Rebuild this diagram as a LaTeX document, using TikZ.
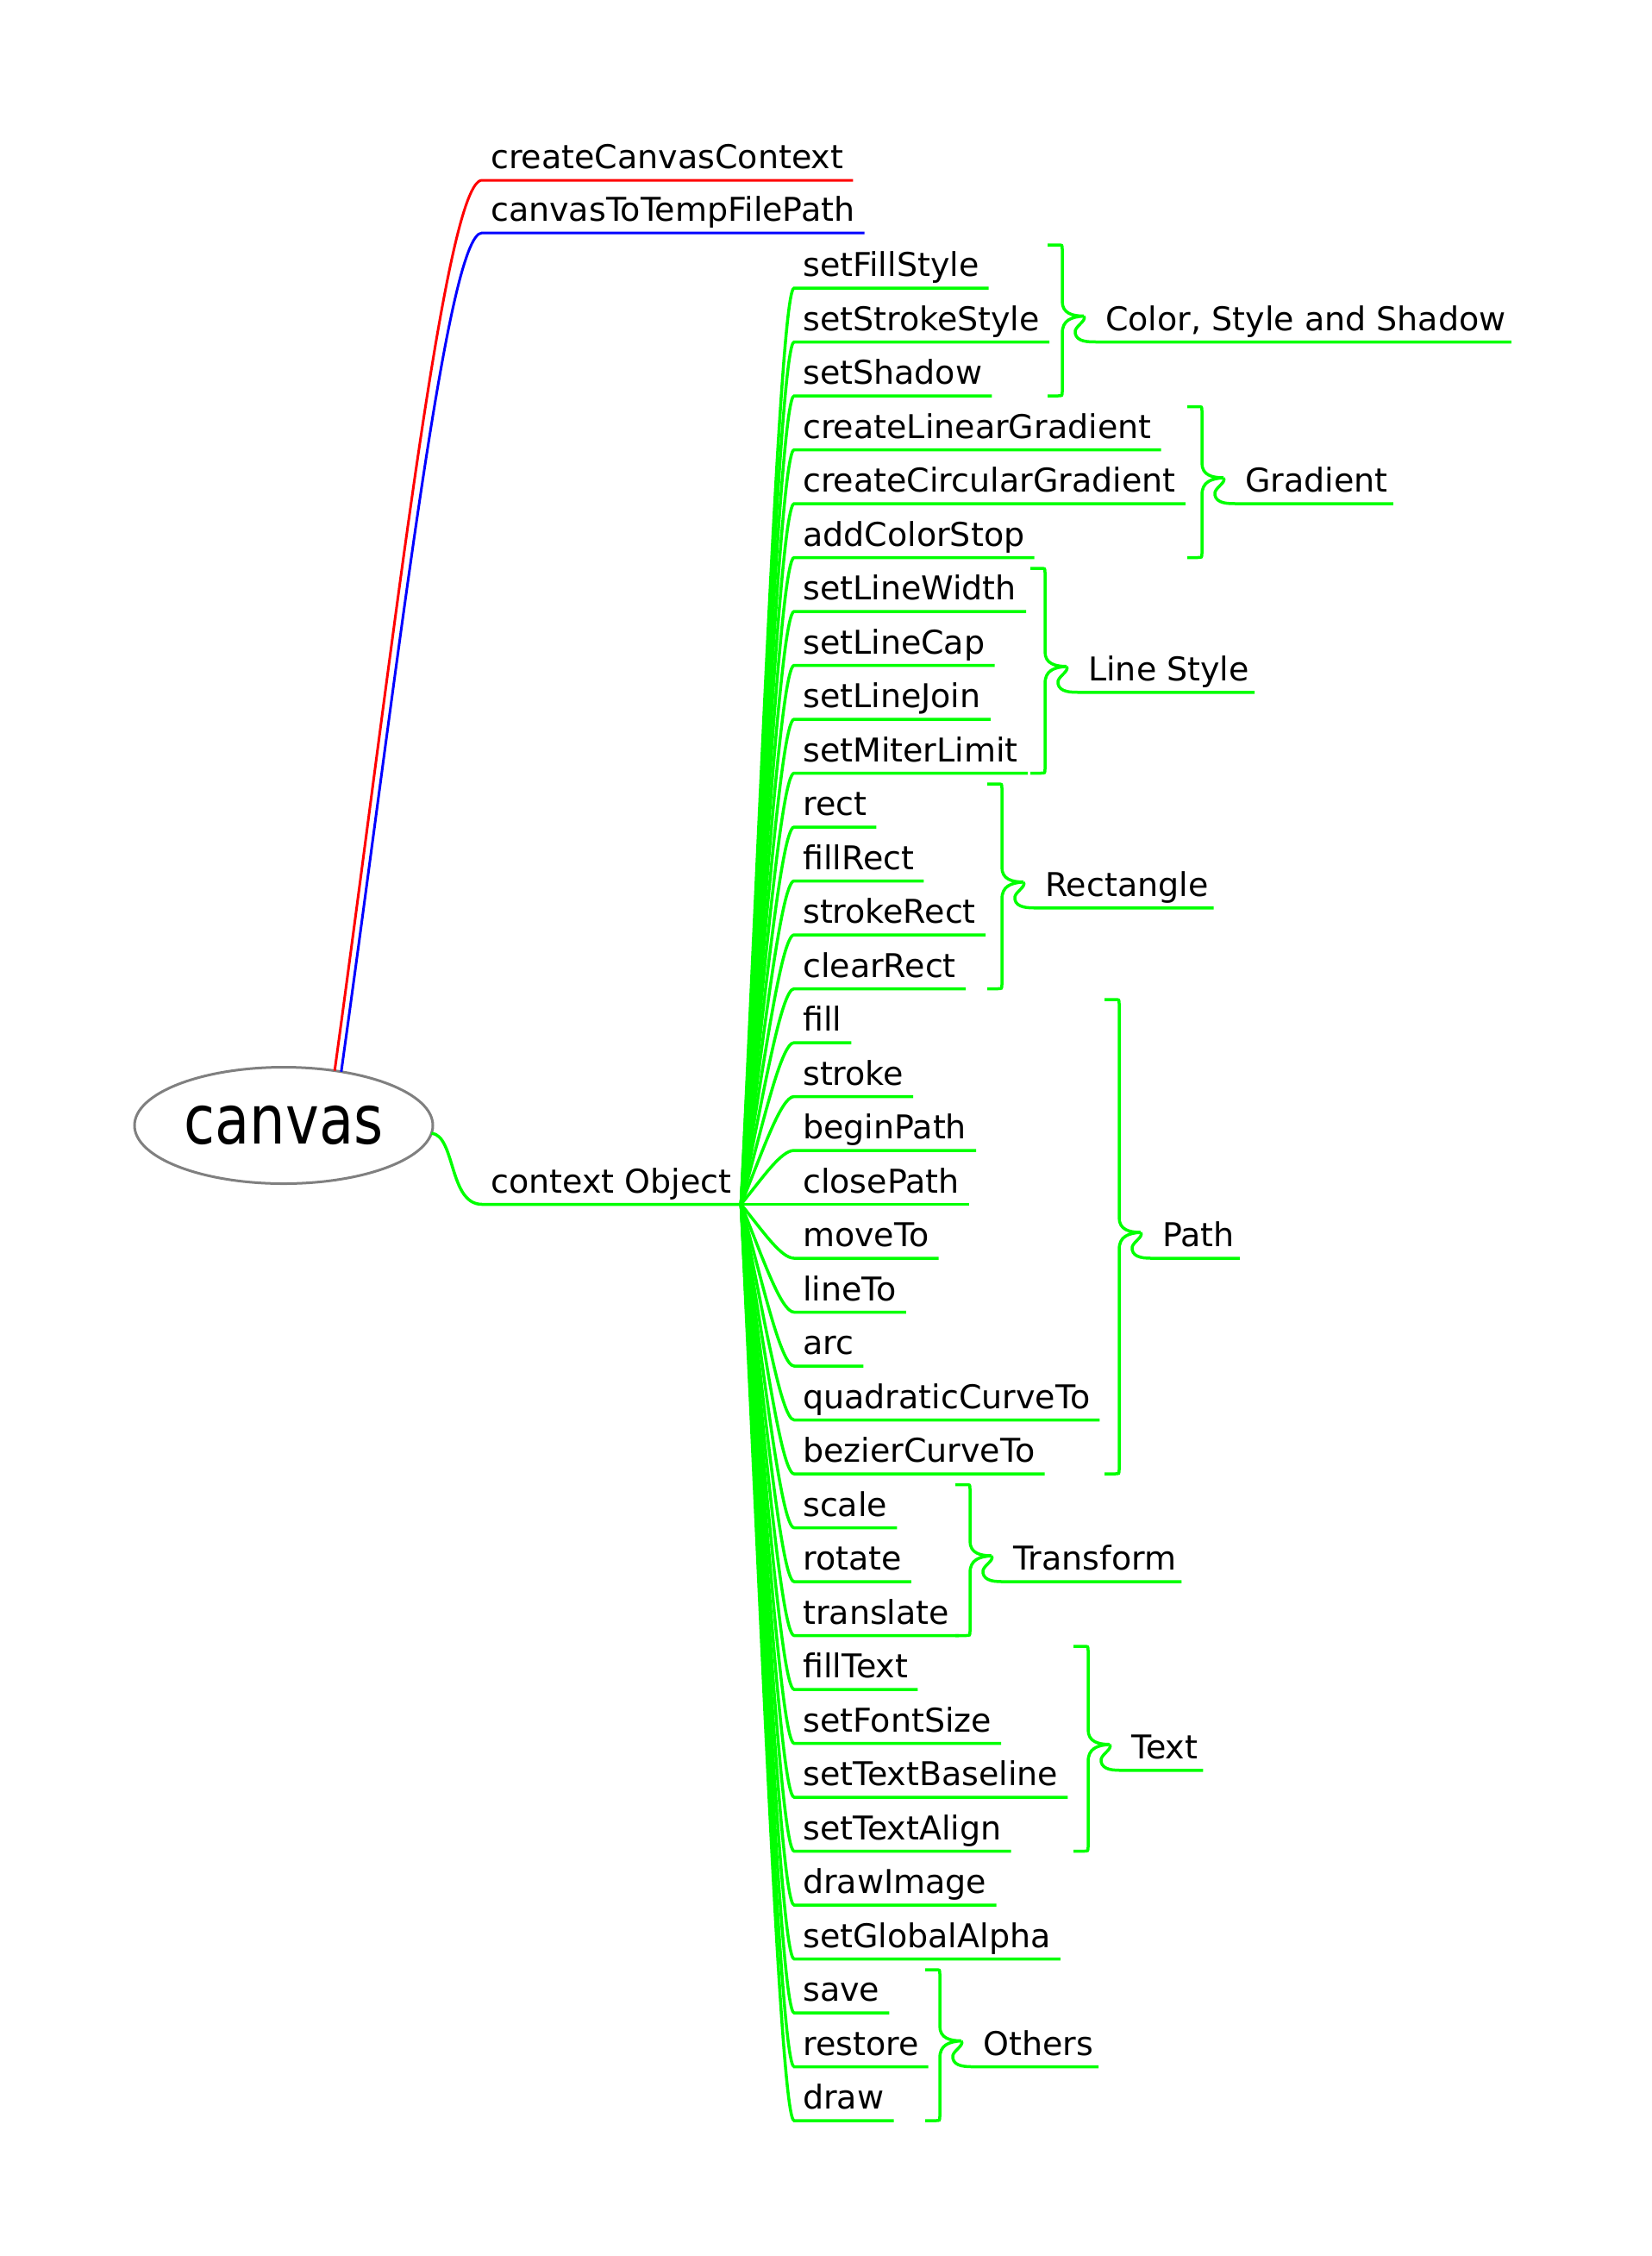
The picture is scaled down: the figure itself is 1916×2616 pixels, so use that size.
\documentclass[tikz,border=0pt]{standalone}
\usepackage{fontspec}
\setmainfont{DejaVu Sans}
\newfontfamily\rootfont[FakeStretch=0.83]{DejaVu Sans}
\usetikzlibrary{calc,             % for let and midpoints
                shapes.geometric, % for the ellipse
               }
\tikzstyle{root} = [ellipse, draw=gray, line width=3pt, fill=white, minimum width=346pt, minimum height=135pt, inner sep=0pt, outer sep=0pt, font=\rootfont\fontsize{79}{90}\selectfont]
\tikzstyle{method} = [anchor=south west, inner xsep=0pt, inner ysep=0pt, text depth=13pt, font=\fontsize{38}{46}\selectfont]
\tikzstyle{branch} = [draw=green, line width=3.5pt, to path={let \p1=(\tikztostart), \p2=([xshift=-10pt]\tikztotarget.south west), \p3=([xshift=11pt]\tikztotarget.south east) in .. controls (\x1+0.4*\x2-0.4*\x1, \y1+0.48*\y2-0.48*\y1) and (\x1+0.75*\x2-0.75*\x1, \y2) .. (\p2) -- (\p3)}]
\tikzstyle{rootlink} = [draw=green, line width=3.5pt, to path={let \p1=(\tikztostart), \p2=([xshift=-10pt]\tikztotarget.south west), \p3=([xshift=11pt]\tikztotarget.south east) in .. controls (\x1+28pt, \y1-3pt) and (\x1+20pt, \y2) .. (\p2) -- (\p3)}]
\tikzstyle{brace} = [draw=green, line width=3.5pt, to path={let \p1=(\tikztostart), \p2=(\tikztotarget), \p3=($(\tikztostart)!.5!(\tikztotarget)$) in (\x1-17pt,\y1) -- (\x1-5pt,\y1) .. controls (\x1,\y1) .. (\x1,\y1-5pt) -- (\x1,\y3+22pt) .. controls (\x1,\y3+8pt) and (\x1+12pt,\y3+5pt) .. (\x1+25pt,\y3+5pt) .. controls (\x1+10pt,\y3+4pt) and (\x1,\y3) .. (\x1,\y3-15pt) -- (\x1,\y2+5pt) .. controls (\x1,\y2) .. (\x1-5pt,\y2) -- (\x1-17pt,\y2)}]
\tikzstyle{lead} = [draw=green, line width=3.5pt, to path={let \p1=(\tikztostart), \p2=(\tikztotarget.south west), \p3=([xshift=6pt]\tikztotarget.south east) in .. controls (\x1+4pt,\y1-6pt) and (\x1-12pt,\y1-12pt) .. (\x1-10pt,\y1-20pt) .. controls (\x1-8pt,\y2) and (\x1+5pt,\y2) .. (\x1+15pt,\y2) -- (\p3)}]

\begin{document}
\begin{tikzpicture}[x=1pt, y=-1pt]
  \useasboundingbox (0,0) rectangle (1916,2616);

  \node (root) [root] at (329, 1305) {canvas};
  \node (ctxcreate) [method] at (569, 209) {createCanvasContext};
  \node (tempfile) [method] at (569, 270) {canvasToTempFilePath};
  \node (ctx) [method] at (569, 1396.5) {context Object};
  \coordinate (hub) at ([xshift=11pt]ctx.south east);
  \draw [branch, draw=red, line width=3pt] (root.47) to (ctxcreate);
  \draw [branch, draw=blue, line width=3pt] (root.43) to (tempfile);
  \draw [rootlink] (root.-3) to (ctx);

  % methods of the context object
  \node (mfillstyle) [method] at (931, 334) {setFillStyle};
  \node (mstrokestyle) [method] at (931, 396.5) {setStrokeStyle};
  \node (mshadow) [method] at (931, 459) {setShadow};
  \node (mlinear) [method] at (931, 521.5) {createLinearGradient};
  \node (mcircular) [method] at (931, 584) {createCircularGradient};
  \node (mcolorstop) [method] at (931, 646.5) {addColorStop};
  \node (mlinewidth) [method] at (931, 709) {setLineWidth};
  \node (mlinecap) [method] at (931, 771.5) {setLineCap};
  \node (mlinejoin) [method] at (931, 834) {setLineJoin};
  \node (mmiter) [method] at (931, 896.5) {setMiterLimit};
  \node (mrect) [method] at (931, 959) {rect};
  \node (mfillrect) [method] at (931, 1021.5) {fillRect};
  \node (mstrokerect) [method] at (931, 1084) {strokeRect};
  \node (mclearrect) [method] at (931, 1146.5) {clearRect};
  \node (mfill) [method] at (931, 1209) {fill};
  \node (mstroke) [method] at (931, 1271.5) {stroke};
  \node (mbegin) [method] at (931, 1334) {beginPath};
  \node (mclose) [method] at (931, 1396.5) {closePath};
  \node (mmoveto) [method] at (931, 1459) {moveTo};
  \node (mlineto) [method] at (931, 1521.5) {lineTo};
  \node (marc) [method] at (931, 1584) {arc};
  \node (mquad) [method] at (931, 1646.5) {quadraticCurveTo};
  \node (mbezier) [method] at (931, 1709) {bezierCurveTo};
  \node (mscale) [method] at (931, 1771.5) {scale};
  \node (mrotate) [method] at (931, 1834) {rotate};
  \node (mtranslate) [method] at (931, 1896.5) {translate};
  \node (mfilltext) [method] at (931, 1959) {fillText};
  \node (mfontsize) [method] at (931, 2021.5) {setFontSize};
  \node (mbaseline) [method] at (931, 2084) {setTextBaseline};
  \node (malign) [method] at (931, 2146.5) {setTextAlign};
  \node (mimage) [method] at (931, 2209) {drawImage};
  \node (malpha) [method] at (931, 2271.5) {setGlobalAlpha};
  \node (msave) [method] at (931, 2334) {save};
  \node (mrestore) [method] at (931, 2396.5) {restore};
  \node (mdraw) [method] at (931, 2459) {draw};

  \draw [branch] (hub) to (mfillstyle);
  \draw [branch] (hub) to (mstrokestyle);
  \draw [branch] (hub) to (mshadow);
  \draw [branch] (hub) to (mlinear);
  \draw [branch] (hub) to (mcircular);
  \draw [branch] (hub) to (mcolorstop);
  \draw [branch] (hub) to (mlinewidth);
  \draw [branch] (hub) to (mlinecap);
  \draw [branch] (hub) to (mlinejoin);
  \draw [branch] (hub) to (mmiter);
  \draw [branch] (hub) to (mrect);
  \draw [branch] (hub) to (mfillrect);
  \draw [branch] (hub) to (mstrokerect);
  \draw [branch] (hub) to (mclearrect);
  \draw [branch] (hub) to (mfill);
  \draw [branch] (hub) to (mstroke);
  \draw [branch] (hub) to (mbegin);
  \draw [branch] (hub) to (mclose);
  \draw [branch] (hub) to (mmoveto);
  \draw [branch] (hub) to (mlineto);
  \draw [branch] (hub) to (marc);
  \draw [branch] (hub) to (mquad);
  \draw [branch] (hub) to (mbezier);
  \draw [branch] (hub) to (mscale);
  \draw [branch] (hub) to (mrotate);
  \draw [branch] (hub) to (mtranslate);
  \draw [branch] (hub) to (mfilltext);
  \draw [branch] (hub) to (mfontsize);
  \draw [branch] (hub) to (mbaseline);
  \draw [branch] (hub) to (malign);
  \draw [branch] (hub) to (mimage);
  \draw [branch] (hub) to (malpha);
  \draw [branch] (hub) to (msave);
  \draw [branch] (hub) to (mrestore);
  \draw [branch] (hub) to (mdraw);

  % groups
  \node (gcolor) [method] at (1282, 396.5) {Color, Style and Shadow};
  \coordinate (gcolortop) at (1232, 284);
  \coordinate (gcolorbot) at (1232, 459);
  \coordinate (gcolortip) at (1257, 366.5);
  \draw [brace] (gcolortop) to (gcolorbot);
  \draw [lead] (gcolortip) to (gcolor);

  \node (ggradient) [method] at (1444, 584) {Gradient};
  \coordinate (ggradienttop) at (1394, 471.5);
  \coordinate (ggradientbot) at (1394, 646.5);
  \coordinate (ggradienttip) at (1419, 554);
  \draw [brace] (ggradienttop) to (ggradientbot);
  \draw [lead] (ggradienttip) to (ggradient);

  \node (gline) [method] at (1262, 802.75) {Line Style};
  \coordinate (glinetop) at (1212, 659);
  \coordinate (glinebot) at (1212, 896.5);
  \coordinate (glinetip) at (1237, 772.75);
  \draw [brace] (glinetop) to (glinebot);
  \draw [lead] (glinetip) to (gline);

  \node (grect) [method] at (1212, 1052.75) {Rectangle};
  \coordinate (grecttop) at (1162, 909);
  \coordinate (grectbot) at (1162, 1146.5);
  \coordinate (grecttip) at (1187, 1022.75);
  \draw [brace] (grecttop) to (grectbot);
  \draw [lead] (grecttip) to (grect);

  \node (gpath) [method] at (1348, 1459) {Path};
  \coordinate (gpathtop) at (1298, 1159);
  \coordinate (gpathbot) at (1298, 1709);
  \coordinate (gpathtip) at (1323, 1429);
  \draw [brace] (gpathtop) to (gpathbot);
  \draw [lead] (gpathtip) to (gpath);

  \node (gtransform) [method] at (1175, 1834) {Transform};
  \coordinate (gtransformtop) at (1125, 1721.5);
  \coordinate (gtransformbot) at (1125, 1896.5);
  \coordinate (gtransformtip) at (1150, 1804);
  \draw [brace] (gtransformtop) to (gtransformbot);
  \draw [lead] (gtransformtip) to (gtransform);

  \node (gtext) [method] at (1312, 2052.75) {Text};
  \coordinate (gtexttop) at (1262, 1909);
  \coordinate (gtextbot) at (1262, 2146.5);
  \coordinate (gtexttip) at (1287, 2022.75);
  \draw [brace] (gtexttop) to (gtextbot);
  \draw [lead] (gtexttip) to (gtext);

  \node (gothers) [method] at (1140, 2396.5) {Others};
  \coordinate (gotherstop) at (1090, 2284);
  \coordinate (gothersbot) at (1090, 2459);
  \coordinate (gotherstip) at (1115, 2366.5);
  \draw [brace] (gotherstop) to (gothersbot);
  \draw [lead] (gotherstip) to (gothers);
\end{tikzpicture}
\end{document}
